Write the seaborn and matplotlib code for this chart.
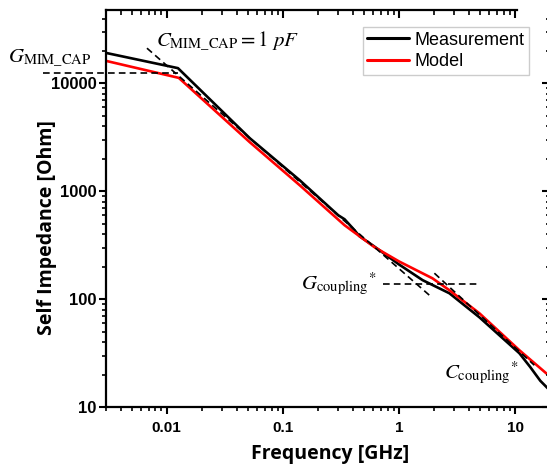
import numpy as np
import pandas as pd
import matplotlib
matplotlib.use("Agg")
import matplotlib.pyplot as plt
import seaborn as sns
from matplotlib.ticker import LogLocator, NullFormatter, FixedLocator, FixedFormatter

# ---- data ----
meas_freq = [0.003, 0.0125, 0.0519, 0.1397, 0.30, 0.34, 0.40, 0.458, 0.593, 0.681, 1.0, 1.6, 2.72, 4.93, 10.9, 13.5, 16.5, 20.0]
meas_z    = [19200, 13870, 3110, 1268, 600, 551, 455, 383, 316, 284, 210, 150, 113.4, 67.9, 31.5, 23.5, 17.5, 14.2]

model_freq = [0.003, 0.0127, 0.0519, 0.1397, 0.34, 0.617, 1.0, 1.945, 2.72, 4.93, 10.9, 18.6, 20.0]
model_z    = [16200, 11270, 2855, 1139, 485, 303, 224, 156, 121, 74, 33.6, 20.5, 19.5]

# guide (asymptote) lines
cmim_f = [0.00676, 1.83]
cmim_z = [21240, 108.7]
gmim_f = [0.00086, 0.01248]
gmim_z = [12540, 12540]
gcpl_f = [0.722, 4.72]
gcpl_z = [137.5, 137.5]
ccpl_f = [2.02, 14.66]
ccpl_z = [174, 24.4]

x_ticks = [0.01, 0.1, 1, 10]
x_tick_labels = ["0.01", "0.1", "1", "10"]
y_ticks = [10, 100, 1000, 10000]
y_tick_labels = ["10", "100", "1000", "10000"]

df = pd.concat([
    pd.DataFrame({"freq": meas_freq, "z": meas_z, "series": "Measurement"}),
    pd.DataFrame({"freq": model_freq, "z": model_z, "series": "Model"}),
], ignore_index=True)

sns.set_style("ticks", {"axes.labelcolor": "black", "xtick.color": "black",
                        "ytick.color": "black", "text.color": "black",
                        "axes.edgecolor": "black"})
plt.rcParams["mathtext.fontset"] = "stix"

W, H = 547, 468
fig = plt.figure(figsize=(W / 100, H / 100), dpi=100)
ax = fig.add_axes([106 / W, (H - 407) / H, (550 - 106) / W, (407 - 10) / H])

sns.lineplot(data=df, x="freq", y="z", hue="series",
             palette={"Measurement": "black", "Model": "#ff0000"},
             estimator=None, sort=True, linewidth=1.9, ax=ax, legend=True)

ax.set_xscale("log")
ax.set_yscale("log")
xlim = (0.003, 20)
ylim = (10, 48000)
ax.set_xlim(*xlim)
ax.set_ylim(*ylim)

dash = dict(color="black", lw=1.2, ls=(0, (4, 2.5)))
ax.plot(cmim_f, cmim_z, **dash)
ax.plot(gmim_f, gmim_z, clip_on=False, **dash)
ax.plot(gcpl_f, gcpl_z, **dash)
ax.plot(ccpl_f, ccpl_z, **dash)

ax.xaxis.set_major_locator(FixedLocator(x_ticks))
ax.xaxis.set_major_formatter(FixedFormatter(x_tick_labels))
ax.xaxis.set_minor_locator(LogLocator(base=10, subs=np.arange(2, 10)))
ax.xaxis.set_minor_formatter(NullFormatter())
ax.yaxis.set_major_locator(FixedLocator(y_ticks))
ax.yaxis.set_major_formatter(FixedFormatter(y_tick_labels))
ax.yaxis.set_minor_locator(LogLocator(base=10, subs=np.arange(2, 10)))
ax.yaxis.set_minor_formatter(NullFormatter())
for lab in ax.get_xticklabels():
    lab.set_fontfamily("Liberation Sans")
    lab.set_fontweight("bold")
    lab.set_fontsize(11)
    lab.set_color("black")
for lab in ax.get_yticklabels():
    lab.set_fontfamily("Liberation Sans")
    lab.set_fontweight("bold")
    lab.set_fontsize(12)
    lab.set_color("black")

ax.tick_params(which="major", direction="out", length=5, width=1.5, color="black")
ax.tick_params(which="minor", direction="out", length=3, width=1.2, color="black")
ax.tick_params(axis="x", pad=5)
ax.tick_params(axis="y", pad=2)
for s in ["left", "bottom"]:
    ax.spines[s].set_linewidth(1.6)
    ax.spines[s].set_color("black")
ax.spines["top"].set_visible(False)
ax.spines["right"].set_visible(False)

# mirrored inward ticks (top / right)
axt = ax.twiny()
axt.set_xscale("log")
axt.set_xlim(*xlim)
axt.xaxis.set_major_locator(FixedLocator(x_ticks))
axt.xaxis.set_minor_locator(LogLocator(base=10, subs=np.arange(2, 10)))
axt.tick_params(which="major", direction="in", length=6, width=1.5, labeltop=False, color="black")
axt.tick_params(which="minor", direction="in", length=3.5, width=1.2, color="black")
for s in ["left", "bottom", "right"]:
    axt.spines[s].set_visible(False)
axt.spines["top"].set_linewidth(1.6)
axt.spines["top"].set_color("black")
axt.spines["top"].set_bounds(xlim[0], 10.4)

axr = ax.twinx()
axr.set_yscale("log")
axr.set_ylim(*ylim)
axr.yaxis.set_major_locator(FixedLocator(y_ticks))
axr.yaxis.set_minor_locator(LogLocator(base=10, subs=np.arange(2, 10)))
axr.yaxis.set_minor_formatter(NullFormatter())
axr.tick_params(which="major", direction="in", length=6, width=1.5, labelright=False, color="black")
axr.tick_params(which="minor", direction="in", length=3, width=1.2, color="black")
for s in ["left", "bottom", "top", "right"]:
    axr.spines[s].set_visible(False)

labfont = dict(family="Open Sans", weight="bold", size=14, color="black")
ax.set_xlabel("Frequency [GHz]", **labfont)
ax.set_ylabel("Self Impedance [Ohm]", **labfont)
ax.xaxis.set_label_coords((330 - 106) / 444, (407 - 444) / 397)
ax.yaxis.set_label_coords((57 - 106) / 444, (407 - 228) / 397)

leg = ax.legend(loc="upper right", bbox_to_anchor=(0.952, 0.957), frameon=True,
                fancybox=False, borderaxespad=0, borderpad=0.25,
                handlelength=2.3, handletextpad=0.3, labelspacing=0.25,
                prop={"family": "Liberation Sans", "size": 13})
leg.get_frame().set_edgecolor("#c0c0c0")
leg.get_frame().set_linewidth(1.0)
for t in leg.get_texts():
    t.set_color("black")
for line in leg.get_lines():
    line.set_linewidth(2.2)

# annotations
tfs = 15
fig.text(8 / W, 1 - 58 / H, r"$G_{\mathrm{MIM\_CAP}}$", fontsize=tfs, va="center", ha="left")
fig.text(156 / W, 1 - 41 / H, r"$C_{\mathrm{MIM\_CAP}}=1\ pF$", fontsize=tfs, va="center", ha="left")
fig.text(301 / W, 1 - 284 / H, r"$G_{\mathrm{coupling}}{}^{*}$", fontsize=tfs, va="center", ha="left")
fig.text(444 / W, 1 - 373 / H, r"$C_{\mathrm{coupling}}{}^{*}$", fontsize=tfs, va="center", ha="left")

fig.savefig("out.png", dpi=100)
